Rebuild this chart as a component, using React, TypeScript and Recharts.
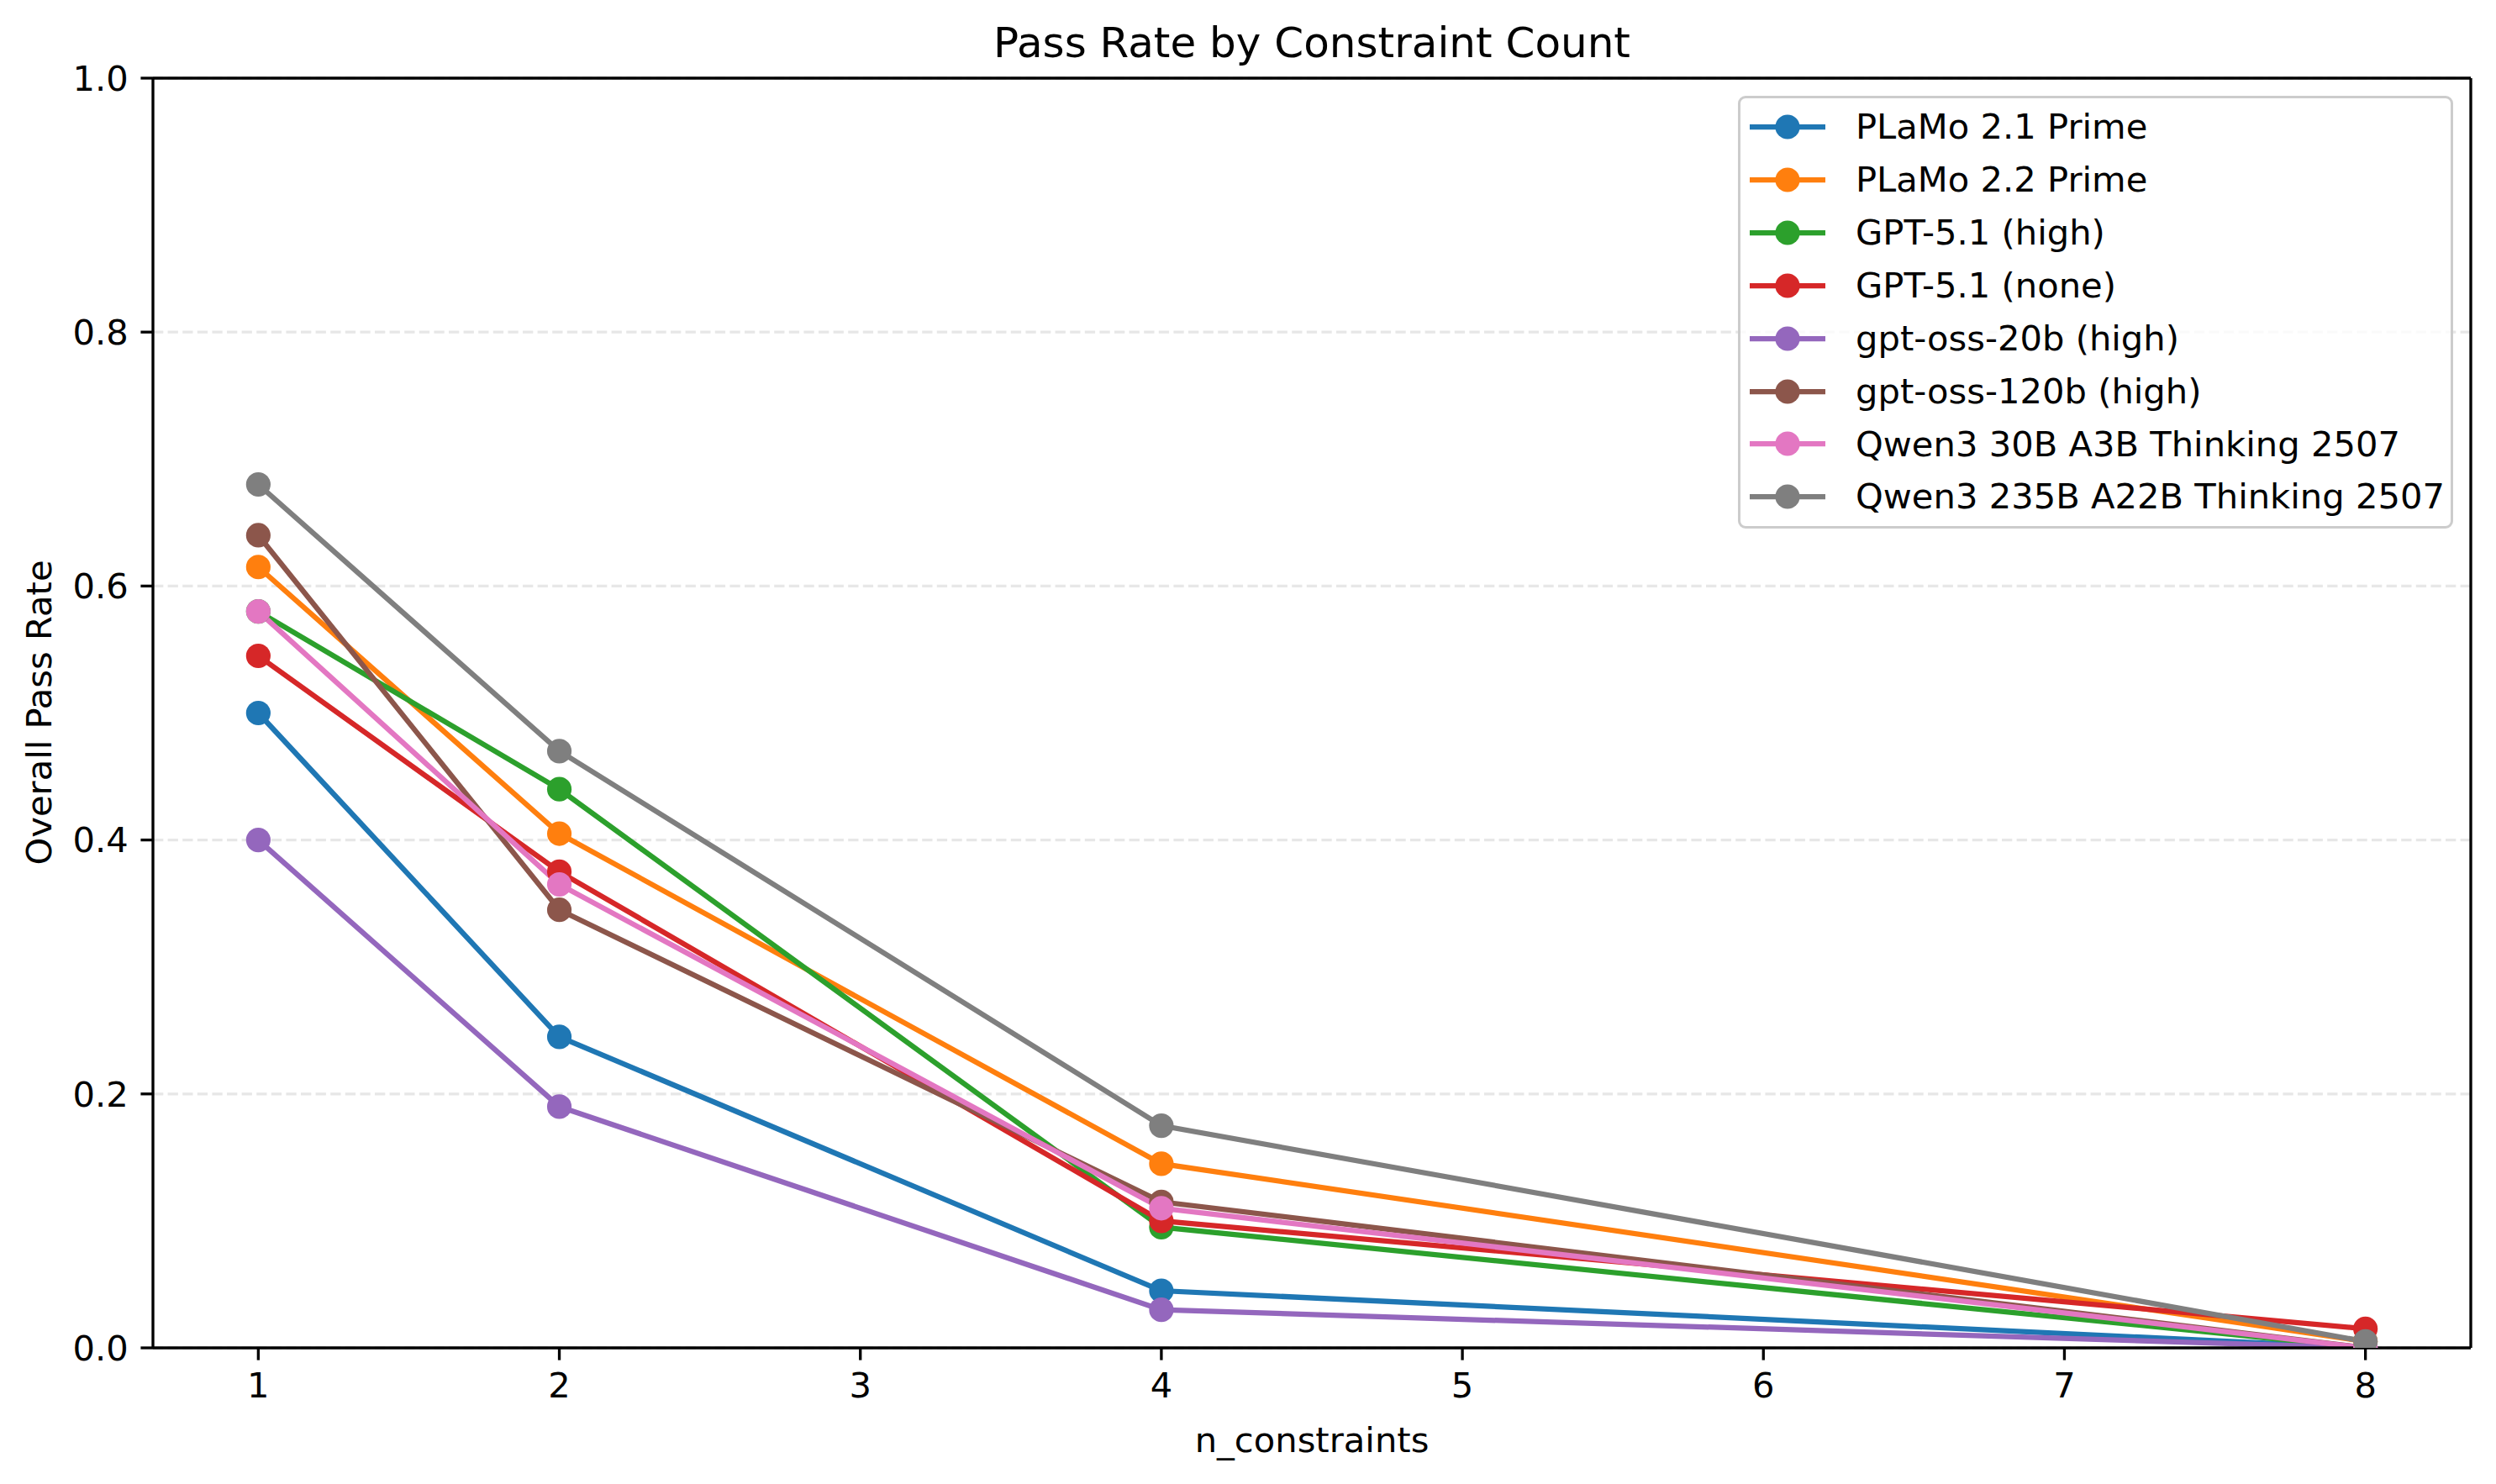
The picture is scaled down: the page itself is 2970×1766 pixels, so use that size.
import React from "react";
import {
  LineChart,
  Line,
  XAxis,
  YAxis,
  CartesianGrid,
  Legend,
  ReferenceLine,
} from "recharts";

// matplotlib-ish sizes at 300 dpi (1pt = 4.1667px)
const PT = 300 / 72;
const FONT = "'DejaVu Sans', sans-serif";

const nConstraints = [1, 2, 4, 8];
const xTicks = [1, 2, 3, 4, 5, 6, 7, 8];
const yTicks = [0, 0.2, 0.4, 0.6, 0.8, 1.0];

const modelNames = [
  "PLaMo 2.1 Prime",
  "PLaMo 2.2 Prime",
  "GPT-5.1 (high)",
  "GPT-5.1 (none)",
  "gpt-oss-20b (high)",
  "gpt-oss-120b (high)",
  "Qwen3 30B A3B Thinking 2507",
  "Qwen3 235B A22B Thinking 2507",
];

const colors = [
  "#1f77b4",
  "#ff7f0e",
  "#2ca02c",
  "#d62728",
  "#9467bd",
  "#8c564b",
  "#e377c2",
  "#7f7f7f",
];

const plamo21 = [0.5, 0.245, 0.045, 0.0];
const plamo22 = [0.615, 0.405, 0.145, 0.005];
const gpt51High = [0.58, 0.44, 0.095, 0.0];
const gpt51None = [0.545, 0.375, 0.1, 0.015];
const oss20b = [0.4, 0.19, 0.03, 0.0];
const oss120b = [0.64, 0.345, 0.115, 0.0];
const qwen30b = [0.58, 0.365, 0.11, 0.0];
const qwen235b = [0.68, 0.47, 0.175, 0.005];

const seriesValues = [
  plamo21,
  plamo22,
  gpt51High,
  gpt51None,
  oss20b,
  oss120b,
  qwen30b,
  qwen235b,
];

const data = nConstraints.map((n, i) => {
  const row: Record<string, number> = { n };
  seriesValues.forEach((vals, s) => {
    row["s" + s] = vals[i];
  });
  return row;
});

const tickStyle = { fontSize: 10 * PT, fill: "#000", fontFamily: FONT };

// legend keeps the plotting order (recharts sorts by name otherwise)
function LegendBox() {
  return (
    <div
      style={{
        position: "relative",
        width: 851,
        height: 515,
        boxSizing: "border-box",
        border: "3.5px solid #cccccc",
        borderRadius: 9,
        background: "rgba(255,255,255,0.8)",
        fontFamily: FONT,
        fontSize: 10 * PT,
        color: "#000",
      }}
    >
      {modelNames.map((name, i) => {
        const cy = 34 + i * 62.9;
        return (
          <div
            key={name}
            style={{
              position: "absolute",
              left: 0,
              top: cy - 30,
              height: 60,
              display: "flex",
              alignItems: "center",
              whiteSpace: "nowrap",
            }}
          >
            <svg width={137} height={60} style={{ display: "block" }}>
              <line x1={11} x2={101} y1={30} y2={30} stroke={colors[i]} strokeWidth={1.5 * PT} />
              <circle cx={56} cy={30} r={14.6} fill={colors[i]} />
            </svg>
            <span style={{ lineHeight: 1 }}>{name}</span>
          </div>
        );
      })}
    </div>
  );
}

export default function App() {
  return (
    <div style={{ position: "relative", width: 2970, height: 1766, background: "#fff" }}>
      <style>{`body{margin:0}`}</style>
      <LineChart
        width={2970}
        height={1766}
        data={data}
        margin={{ top: 93, right: 30, bottom: 62, left: 82 }}
      >
        <CartesianGrid
          vertical={false}
          stroke="#b0b0b0"
          strokeOpacity={0.3}
          strokeWidth={0.8 * PT}
          strokeDasharray="12.3 5.3"
        />
        <XAxis
          dataKey="n"
          type="number"
          domain={[0.65, 8.35]}
          ticks={xTicks}
          interval={0}
          allowDataOverflow
          height={100}
          tick={tickStyle}
          tickSize={3.5 * PT}
          tickMargin={3.5 * PT}
          axisLine={{ stroke: "#000", strokeWidth: 0.8 * PT }}
          tickLine={{ stroke: "#000", strokeWidth: 0.8 * PT }}
        />
        <YAxis
          type="number"
          domain={[0, 1]}
          ticks={yTicks}
          interval={0}
          allowDataOverflow
          width={100}
          tickFormatter={(v: number) => v.toFixed(1)}
          tick={tickStyle}
          tickSize={3.5 * PT}
          tickMargin={3.5 * PT}
          axisLine={{ stroke: "#000", strokeWidth: 0.8 * PT }}
          tickLine={{ stroke: "#000", strokeWidth: 0.8 * PT }}
        />
        <ReferenceLine y={1} stroke="#000" strokeWidth={0.8 * PT} />
        <ReferenceLine x={8.35} stroke="#000" strokeWidth={0.8 * PT} />
        {modelNames.map((name, s) => (
          <Line
            key={name}
            type="linear"
            dataKey={"s" + s}
            name={name}
            stroke={colors[s]}
            strokeWidth={1.5 * PT}
            dot={{ r: 14.6, fill: colors[s], stroke: "none" }}
            activeDot={false}
            isAnimationActive={false}
          />
        ))}
        <Legend
          layout="vertical"
          align="center"
          verticalAlign="middle"
          wrapperStyle={{ top: 114, left: 2068, width: 851, height: 515 }}
          content={LegendBox}
        />
      </LineChart>

      <div
        style={{
          position: "absolute",
          left: 1561,
          top: 21.6,
          transform: "translateX(-50%)",
          fontFamily: FONT,
          fontSize: 12 * PT,
          lineHeight: 1.164,
          whiteSpace: "nowrap",
          color: "#000",
        }}
      >
        Pass Rate by Constraint Count
      </div>
      <div
        style={{
          position: "absolute",
          left: 1561,
          top: 1690,
          transform: "translateX(-50%)",
          fontFamily: FONT,
          fontSize: 10 * PT,
          lineHeight: 1.164,
          whiteSpace: "nowrap",
          color: "#000",
        }}
      >
        n_constraints
      </div>
      <div
        style={{
          position: "absolute",
          left: 47,
          top: 848,
          transform: "translate(-50%, -50%) rotate(-90deg)",
          fontFamily: FONT,
          fontSize: 10 * PT,
          lineHeight: 1.164,
          whiteSpace: "nowrap",
          color: "#000",
        }}
      >
        Overall Pass Rate
      </div>
    </div>
  );
}
